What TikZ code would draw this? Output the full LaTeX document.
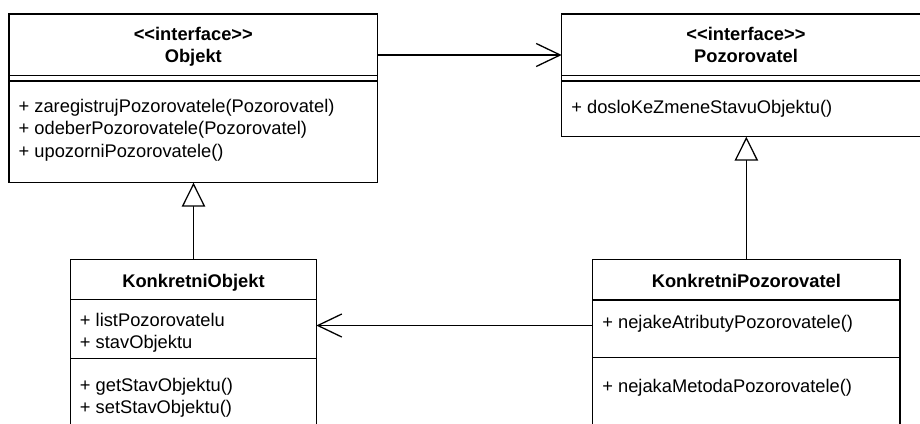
\documentclass[tikz,border=0pt]{standalone}
\usepackage{fontspec}
\setmainfont{Liberation Sans}[Ligatures=TeXOff]
\usetikzlibrary{arrows.meta}
\begin{document}
\begin{tikzpicture}[x=1pt,y=-1pt,
  line width=1.3pt,
  classbox/.style={draw, line width=1.3pt, fill=white, anchor=north west,
    inner sep=0pt, outer sep=0pt},
  classtitle/.style={anchor=base, inner sep=0pt,
    font=\fontsize{18.3}{22}\selectfont\bfseries},
  member/.style={anchor=base west, inner sep=0pt,
    font=\fontsize{18.3}{22}\selectfont},
  assoc/.style={-{Straight Barb[length=24pt,width=23pt]}},
  realize/.style={-{Triangle[open,length=24pt,width=23.5pt,fill=white]}},
]
\useasboundingbox (0,0) rectangle (920,423);
\clip (0,0) rectangle (920,423);
\fill[white] (0,0) rectangle (920,423);

% ---- interface Objekt ----
\node[classbox, minimum width=368.7pt, minimum height=168.7pt] (objekt) at (9,14) {};
\draw ([yshift=-61.7pt]objekt.north west) -- ([yshift=-61.7pt]objekt.north east);
\draw ([yshift=-67pt]objekt.north west) -- ([yshift=-67pt]objekt.north east);
\node[classtitle] (objekt-st) at (193.3,40.5) {<<interface>>};
\node[classtitle] (objekt-name) at (193.3,62.5) {Objekt};
\node[member] (objekt-m1) at (18,112) {+ zaregistrujPozorovatele(Pozorovatel)};
\node[member] (objekt-m2) at (18,134.5) {+ odeberPozorovatele(Pozorovatel)};
\node[member] (objekt-m3) at (18,157) {+ upozorniPozorovatele()};

% ---- interface Pozorovatel ----
\node[classbox, minimum width=368.7pt, minimum height=122.7pt] (pozor) at (561.7,14) {};
\draw ([yshift=-61.7pt]pozor.north west) -- ([yshift=-61.7pt]pozor.north east);
\draw ([yshift=-67pt]pozor.north west) -- ([yshift=-67pt]pozor.north east);
\node[classtitle] (pozor-st) at (746,40.5) {<<interface>>};
\node[classtitle] (pozor-name) at (746,62.5) {Pozorovatel};
\node[member] (pozor-m1) at (570.7,113.5) {+ dosloKeZmeneStavuObjektu()};

% ---- KonkretniObjekt ----
\node[classbox, minimum width=245.6pt, minimum height=200pt] (kobjekt) at (70.7,259.3) {};
\draw ([yshift=-40.4pt]kobjekt.north west) -- ([yshift=-40.4pt]kobjekt.north east);
\draw ([yshift=-99pt]kobjekt.north west) -- ([yshift=-99pt]kobjekt.north east);
\node[classtitle] (kobjekt-name) at (193.5,287.5) {KonkretniObjekt};
\node[member] (kobjekt-a1) at (79.3,326) {+ listPozorovatelu};
\node[member] (kobjekt-a2) at (79.3,348.5) {+ stavObjektu};
\node[member] (kobjekt-m1) at (79.3,391.5) {+ getStavObjektu()};
\node[member] (kobjekt-m2) at (79.3,413) {+ setStavObjektu()};

% ---- KonkretniPozorovatel ----
\node[classbox, minimum width=307.3pt, minimum height=200pt] (kpozor) at (592.7,259.3) {};
\draw ([yshift=-40.7pt]kpozor.north west) -- ([yshift=-40.7pt]kpozor.north east);
\draw ([yshift=-98.4pt]kpozor.north west) -- ([yshift=-98.4pt]kpozor.north east);
\node[classtitle] (kpozor-name) at (746.35,287.5) {KonkretniPozorovatel};
\node[member] (kpozor-a1) at (601.7,328) {+ nejakeAtributyPozorovatele()};
\node[member] (kpozor-m1) at (601.7,392) {+ nejakaMetodaPozorovatele()};

% ---- relations ----
\draw[assoc] ([yshift=-41pt]objekt.north east) -- ([yshift=-41pt]pozor.north west);
\draw[assoc] ([yshift=-66.2pt]kpozor.north west) -- ([yshift=-66.2pt]kobjekt.north east);
\draw[realize] (kobjekt.north) -- (kobjekt.north |- objekt.south);
\draw[realize] (kpozor.north) -- (kpozor.north |- pozor.south);
\end{tikzpicture}
\end{document}
